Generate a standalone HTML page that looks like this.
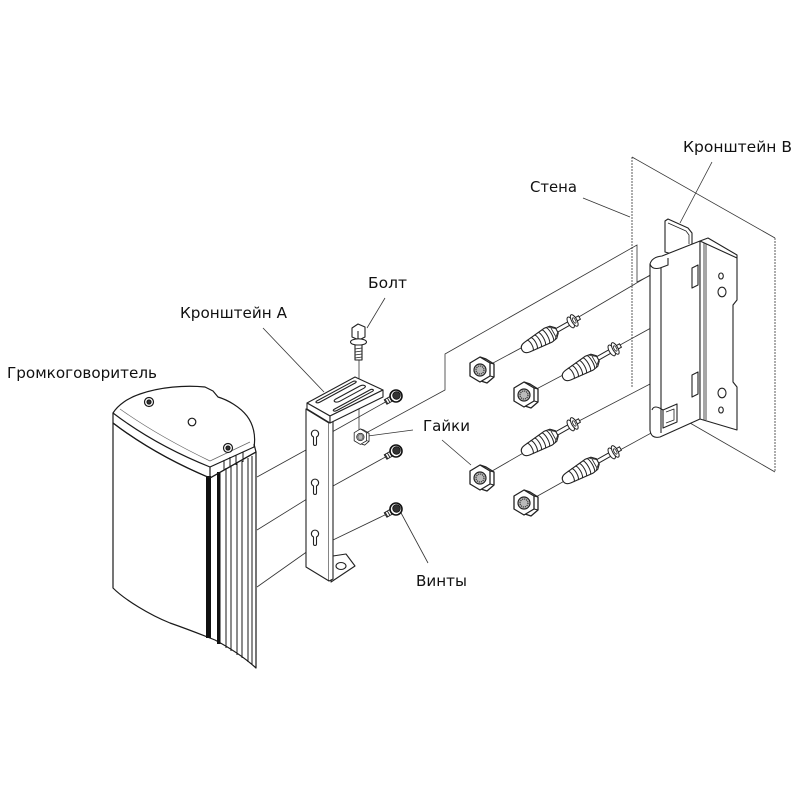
<!DOCTYPE html>
<html><head><meta charset="utf-8"><style>html,body{margin:0;padding:0;background:#fff}svg{display:block}</style></head>
<body>
<svg width="800" height="800" viewBox="0 0 800 800" xmlns="http://www.w3.org/2000/svg">
<defs>
<g id="plug">
  <path d="M0,0 C0,-3 2,-5 6,-5.5 L30,-8 L36,-7 L40,-3 L40,3 L36,7 L30,8 L6,5.5 C2,5 0,3 0,0 Z" fill="#fff" stroke="#222" stroke-width="1.1"/>
  <path d="M9,-6 A2.2,6 0 0 1 9,6 M13.5,-6.4 A2.2,6.4 0 0 1 13.5,6.4 M18,-6.8 A2.2,6.8 0 0 1 18,6.8 M22.5,-7.2 A2.2,7.2 0 0 1 22.5,7.2 M27,-7.6 A2.2,7.6 0 0 1 27,7.6 M31.5,-7.8 A2.2,7.8 0 0 1 31.5,7.8" fill="none" stroke="#222" stroke-width="1"/>
  <path d="M34,-7 L40,-2 M34,7 L40,2 M36,-5 L36,5" fill="none" stroke="#222" stroke-width="0.8"/>
  <rect x="40" y="-2" width="26" height="4" fill="#fff" stroke="#222" stroke-width="1"/>
  <ellipse cx="56" cy="0" rx="2.6" ry="6" fill="#fff" stroke="#222" stroke-width="1"/>
  <ellipse cx="60" cy="0" rx="2.6" ry="6.5" fill="#fff" stroke="#222" stroke-width="1"/>
  <ellipse cx="60" cy="0" rx="1.2" ry="3" fill="none" stroke="#222" stroke-width="0.8"/>
</g>
<g id="nut">
  <path d="M-1,-13 L5,-11 L13,-6 L13,7 L6,13 L0,11" fill="#fff" stroke="#222" stroke-width="1.3" stroke-linejoin="round"/>
  <polygon points="-1,-13 9,-7 9,6 -1,12 -11,6 -11,-7" fill="#fff" stroke="#222" stroke-width="1.3" stroke-linejoin="round"/>
  <path d="M9,-7 L13,-6 M9,6 L13,7" stroke="#222" stroke-width="1"/>
  <circle cx="-1" cy="0" r="6" fill="#bbb" stroke="#222" stroke-width="1.2"/>
  <circle cx="-1" cy="0" r="4" fill="none" stroke="#333" stroke-width="1.2" stroke-dasharray="1.2,0.9"/>
</g>
<g id="screw">
  <g transform="rotate(150)">
    <rect x="3" y="-2.6" width="9" height="5.2" fill="#fff" stroke="#222" stroke-width="1"/>
    <path d="M6,-2.6 L6,2.6 M8.5,-2.6 L8.5,2.6 M11,-2.6 L11,2.6" stroke="#222" stroke-width="0.9"/>
  </g>
  <circle cx="0" cy="0" r="6" fill="#fff" stroke="#111" stroke-width="1.6"/>
  <circle cx="0.5" cy="-0.5" r="3.8" fill="#333" stroke="#111" stroke-width="0.8"/>
</g>
</defs>

<g fill="none" stroke="#333" stroke-width="0.8">
  <line x1="632" y1="157" x2="632" y2="388" stroke-dasharray="2,1"/>
  <line x1="632" y1="157" x2="775" y2="238"/>
  <line x1="775" y1="238" x2="775" y2="472" stroke-dasharray="2,1"/>
  <line x1="690" y1="423" x2="775" y2="472"/>

  <line x1="257" y1="477" x2="315" y2="445"/>
  <line x1="257" y1="530" x2="315" y2="494"/>
  <line x1="257" y1="587" x2="315" y2="546"/>

  <line x1="389" y1="400" x2="332" y2="432"/>
  <line x1="389" y1="455" x2="333" y2="486"/>
  <line x1="389" y1="513" x2="333" y2="540"/>

  <polyline points="366,433 445,390 445,354 637,245 637,282 651,275"/>

  <polyline points="480,370 577,318 652,274"/>
  <polyline points="525,395 620,345 720,290"/>
  <polyline points="480,478 577,422 652,383"/>
  <polyline points="525,503 620,450 721,395"/>

  <line x1="359" y1="358" x2="359" y2="432"/>

  <line x1="263" y1="328" x2="324" y2="392"/>
  <line x1="385" y1="298" x2="367" y2="328"/>
  <line x1="413" y1="430" x2="368" y2="436"/>
  <line x1="442" y1="440" x2="471" y2="465"/>
  <line x1="428" y1="563" x2="400" y2="511"/>
  <line x1="583" y1="198" x2="630" y2="217"/>
  <line x1="712" y1="162" x2="680" y2="223"/>
</g>

<!-- speaker -->
<g stroke="#1a1a1a" stroke-width="1.2" fill="#fff" stroke-linejoin="round">
  <path d="M113,423 L113,588 C125,600 150,615 170,623 C190,630 205,636 215,640 C230,648 245,658 256,668 L256,452 L210,478 Q155,455 113,423 Z"/>
  <rect x="206" y="476" width="5" height="162" fill="#111" stroke="none"/>
  <rect x="217" y="472" width="3.5" height="172" fill="#111" stroke="none"/>
  <path d="M226,468 L226,648 M231,466 L231,651 M237,463 L237,655 M242,461 L242,658 M248,458 L248,662 M252,456 L252,665" fill="none" stroke-width="1"/>
  <path d="M113,413 C118,405 128,398 140,394 C160,387 185,385 205,387 L213,391 L218,397 C228,400 240,407 247,416 C253,424 256,435 254,447 L210,467 Q155,445 113,413 Z"/>
  <path d="M113,413 L113,423 Q155,455 210,478 L210,467 M210,478 L256,452 L254,444" fill="none"/>
  <path d="M224,460 L224,470 M230,457 L230,467 M236,455 L236,465 M243,452 L243,462" fill="none" stroke-width="1"/>
  <path d="M120,409 Q158,436 210,461 L250,442" fill="none" stroke-width="0.7" stroke="#666"/>
  <circle cx="149" cy="402" r="4.5"/><circle cx="149" cy="402" r="2" fill="#333"/>
  <circle cx="192" cy="422" r="3.8"/>
  <circle cx="228" cy="448" r="4.5"/><circle cx="228" cy="448" r="2" fill="#333"/>
</g>

<!-- bracket A -->
<g stroke="#222" stroke-width="1.1" fill="#fff" stroke-linejoin="round">
  <path d="M333,556 L346,554 L355,566 L331,582 Z"/>
  <ellipse cx="341" cy="566" rx="5" ry="3.5"/>
  <path d="M306,409 L306,567 L329,581 L329,423 Z"/>
  <path d="M329,423 L333,421 L333,579 L329,581"/>
  <polygon points="307,403 355,377 383,390 330,416"/>
  <polygon points="307,403 330,416 330,423 307,409"/>
  <polygon points="330,416 383,390 383,397 330,423"/>
  <g transform="matrix(48,-26,27,13,307,403)" fill="none">
    <rect x="0.1" y="0.12" width="0.82" height="0.1" rx="0.04" ry="0.05" vector-effect="non-scaling-stroke"/>
    <rect x="0.3" y="0.42" width="0.62" height="0.16" rx="0.06" ry="0.08" vector-effect="non-scaling-stroke"/>
    <rect x="0.1" y="0.76" width="0.82" height="0.1" rx="0.04" ry="0.05" vector-effect="non-scaling-stroke"/>
  </g>
  <path d="M313.5,437 A3.6,3.6 0 1 1 316.5,437 L316.5,444 A1.5,1.5 0 0 1 313.5,444 Z"/>
  <path d="M313.5,486 A3.6,3.6 0 1 1 316.5,486 L316.5,493 A1.5,1.5 0 0 1 313.5,493 Z"/>
  <path d="M313.5,537 A3.6,3.6 0 1 1 316.5,537 L316.5,544 A1.5,1.5 0 0 1 313.5,544 Z"/>
  <polygon points="352,328 358,324 365,327 365,337 359,340 352,337"/>
  <line x1="358" y1="331" x2="358" y2="339"/>
  <ellipse cx="358.5" cy="342" rx="8" ry="3.2"/>
  <rect x="355" y="345" width="7" height="15"/>
  <path d="M355,349 L362,348 M355,352 L362,351 M355,355 L362,354 M355,358 L362,357" stroke-width="0.8"/>
</g>
<use href="#nut" transform="translate(361,437) scale(0.62)"/>
<use href="#screw" transform="translate(396,396)"/>
<use href="#screw" transform="translate(396,451)"/>
<use href="#screw" transform="translate(396,509)"/>

<use href="#plug" transform="translate(522,350) rotate(-29.5)"/>
<use href="#plug" transform="translate(563,378) rotate(-29.5)"/>
<use href="#plug" transform="translate(522,453) rotate(-29.5)"/>
<use href="#plug" transform="translate(563,481) rotate(-29.5)"/>
<use href="#nut" transform="translate(481,370)"/>
<use href="#nut" transform="translate(525,395)"/>
<use href="#nut" transform="translate(481,478)"/>
<use href="#nut" transform="translate(525,503)"/>

<!-- bracket B -->
<g stroke="#222" stroke-width="1.1" fill="#fff" stroke-linejoin="round">
  <path d="M665,252 L665,221 L668,219 L688,228 L692,233 L692,246 L672,254 Z"/>
  <path d="M668,223 L686,231 L689,235 L689,244" fill="none" stroke-width="0.8"/>
  <path d="M650,264 L650,430 Q651,439 660,437 L700,419 L700,241 L662,256 Q652,257 650,264 Z"/>
  <path d="M650,264 Q652,270 660,268 L668,265 L668,258" fill="none"/>
  <line x1="661" y1="268" x2="661" y2="433"/>
  <polygon points="700,241 737,258 737,300 733,305 733,382 737,387 737,430 700,419"/>
  <path d="M704,243 L704,420 M706,244 L706,420" fill="none" stroke-width="0.8"/>
  <path d="M700,241 L708,238 L737,255 L737,258" fill="none"/>
  <path d="M692,268 L698,265 L698,285 L692,288 Z"/>
  <path d="M692,375 L698,372 L698,394 L692,397 Z"/>
  <ellipse cx="721" cy="276" rx="2.3" ry="3"/>
  <ellipse cx="722" cy="292" rx="4" ry="4.8"/>
  <ellipse cx="722" cy="393" rx="4" ry="4.8"/>
  <ellipse cx="721" cy="410" rx="2.3" ry="3"/>
  <path d="M663,410 L677,404 L677,422 L663,428 Z"/>
  <path d="M666,412 L674,409 L674,420 L666,423" fill="none" stroke-width="0.8"/>
  <path d="M652,410 Q654,404 663,410" fill="none"/>
</g>

<g font-family="'DejaVu Sans','Liberation Sans',sans-serif" font-size="15" fill="#111">
  <text x="7" y="378" textLength="150" lengthAdjust="spacingAndGlyphs">Громкоговоритель</text>
  <text x="180" y="318" textLength="107" lengthAdjust="spacingAndGlyphs">Кронштейн А</text>
  <text x="368" y="288" textLength="39" lengthAdjust="spacingAndGlyphs">Болт</text>
  <text x="423" y="431" textLength="47" lengthAdjust="spacingAndGlyphs">Гайки</text>
  <text x="416" y="586" textLength="51" lengthAdjust="spacingAndGlyphs">Винты</text>
  <text x="530" y="192" textLength="47" lengthAdjust="spacingAndGlyphs">Стена</text>
  <text x="683" y="152" textLength="109" lengthAdjust="spacingAndGlyphs">Кронштейн В</text>
</g>
</svg>
</body></html>
